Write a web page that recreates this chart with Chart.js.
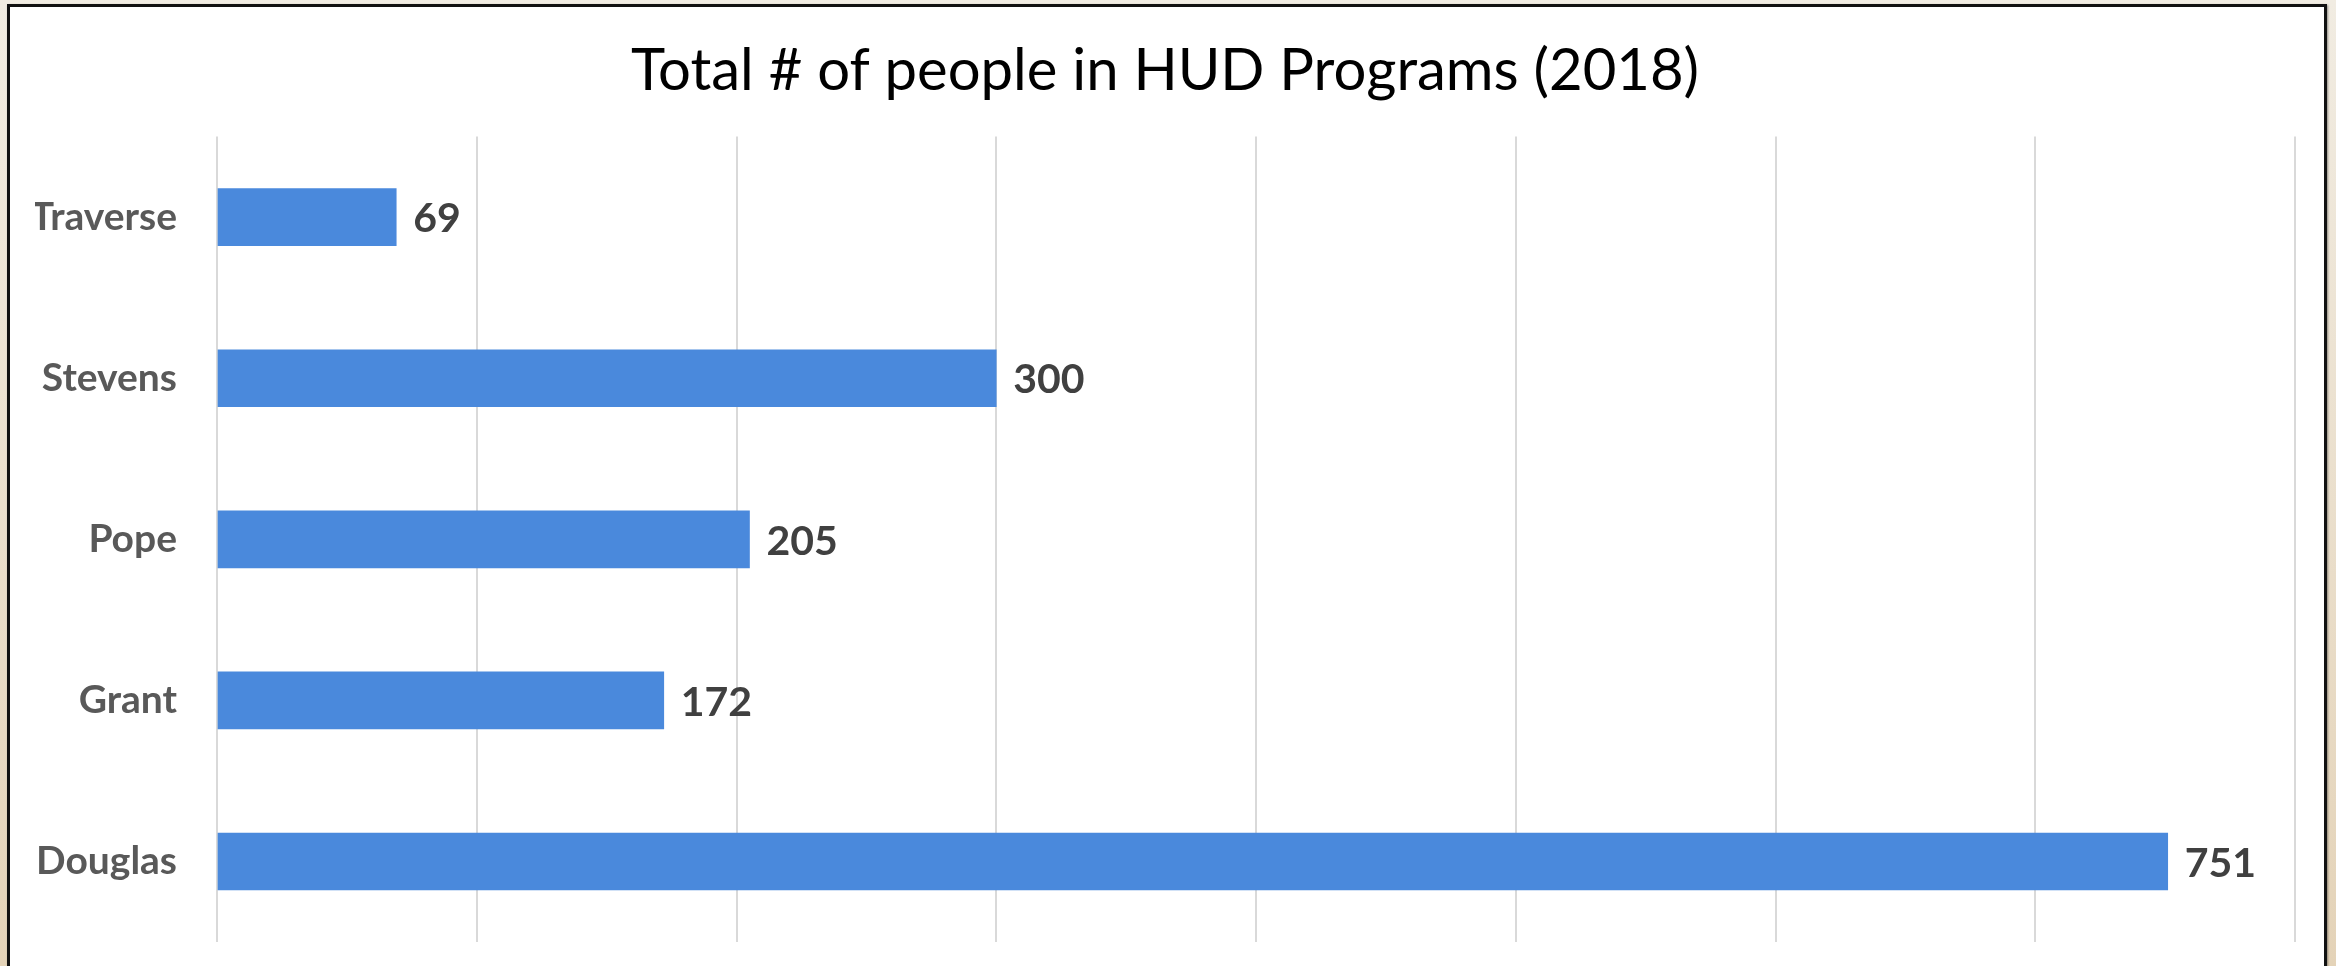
<!DOCTYPE html>
<html>
<head>
<meta charset="utf-8">
<title>Total # of people in HUD Programs (2018)</title>
<script src="https://cdn.jsdelivr.net/npm/chart.js@4/dist/chart.umd.min.js"></script>
<style>
    html, body {
        margin: 0;
        padding: 0;
        width: 2336px;
        height: 966px;
        overflow: hidden;
        background: linear-gradient(to bottom, #f1ece2, #e4d3b8);
    }
    #frame {
        position: absolute;
        left: 7px;
        top: 4px;
        width: 2314px;
        height: 1000px;
        background: #fff;
        border: 3px solid #111;
        box-shadow: 1px 1px 2px rgba(0, 0, 0, 0.4);
    }
    #wrap {
        position: absolute;
        left: 0;
        top: 0;
        width: 2336px;
        height: 966px;
    }
</style>
</head>
<body>
<div id="frame"></div>
<div id="wrap"><canvas id="hudChart"></canvas></div>
<script>
const counties = ['Traverse', 'Stevens', 'Pope', 'Grant', 'Douglas'];
const people = [69, 300, 205, 172, 751];
const xTicks = [0, 100, 200, 300, 400, 500, 600, 700, 800];

// writes the number just past the end of each bar
const valueLabels = {
    id: 'valueLabels',
    afterDatasetsDraw(chart) {
        const ctx = chart.ctx;
        const meta = chart.getDatasetMeta(0);
        ctx.save();
        ctx.font = 'bold 41px Lato';
        ctx.fillStyle = '#404040';
        ctx.textAlign = 'left';
        ctx.textBaseline = 'middle';
        meta.data.forEach((bar, i) => {
            ctx.fillText(String(people[i]), bar.x + 17, bar.y + 2);
        });
        ctx.restore();
    }
};

document.addEventListener('DOMContentLoaded', function() {
    const ctx = document.getElementById('hudChart').getContext('2d');
    new Chart(ctx, {
        type: 'bar',
        data: {
            labels: counties,
            datasets: [{
                label: 'People',
                data: people,
                backgroundColor: '#4A89DC',
                borderWidth: 0,
                barThickness: 57
            }]
        },
        options: {
            indexAxis: 'y',
            responsive: true,
            maintainAspectRatio: false,
            animation: false,
            layout: {
                padding: { left: 35, right: 41, top: 0, bottom: 24 }
            },
            plugins: {
                legend: { display: false },
                tooltip: { enabled: false },
                title: {
                    display: true,
                    text: 'Total # of people in HUD Programs (2018)',
                    color: '#000',
                    font: { family: 'Lato', size: 58, weight: 'normal', lineHeight: 1.2 },
                    padding: { top: 36, bottom: 31 }
                }
            },
            scales: {
                x: {
                    min: 0,
                    max: 800,
                    afterBuildTicks: function(scale) {
                        scale.ticks = xTicks.map(v => ({ value: v }));
                    },
                    afterFit: function(scale) {
                        scale.height = 0;
                    },
                    ticks: { display: false },
                    grid: {
                        color: '#d9d9d9',
                        lineWidth: 2,
                        drawTicks: false
                    },
                    border: { display: false }
                },
                y: {
                    afterFit: function(scale) {
                        scale.width = 182;
                        scale.paddingTop = 0;
                        scale.paddingBottom = 0;
                    },
                    ticks: {
                        padding: 40,
                        color: '#595959',
                        font: { family: 'Lato', size: 39, weight: 'bold' }
                    },
                    grid: { display: false, drawTicks: false },
                    border: { display: false }
                }
            }
        },
        plugins: [valueLabels]
    });
});
</script>
</body>
</html>
